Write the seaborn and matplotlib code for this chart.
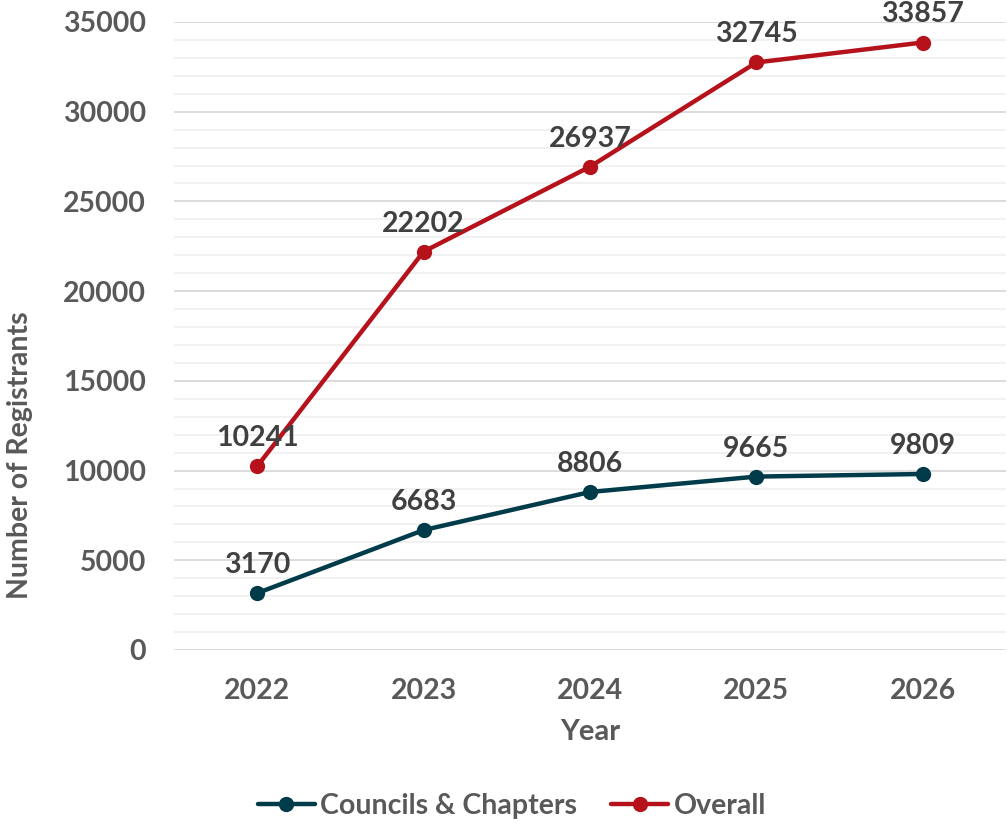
import pandas as pd
import matplotlib.pyplot as plt
from matplotlib.ticker import MultipleLocator
import seaborn as sns

years = ['2022', '2023', '2024', '2025', '2026']
councils = [3170, 6683, 8806, 9665, 9809]
overall = [10241, 22202, 26937, 32745, 33857]

series_names = ['Councils & Chapters', 'Overall']
colors = ['#003B49', '#B5121B']

# long table for seaborn
df = pd.DataFrame({
    'pos': list(range(len(years))) * 2,
    'value': councils + overall,
    'series': [series_names[0]] * len(years) + [series_names[1]] * len(years),
})

sns.set_theme(style='white')
plt.rcParams['font.family'] = ['Lato', 'DejaVu Sans']
plt.rcParams['font.weight'] = 'bold'

fig = plt.figure(figsize=(10.07, 8.26), dpi=100)
ax = fig.add_axes([174 / 1007, 1 - 650 / 826, 832 / 1007, 628 / 826])

sns.lineplot(data=df, x='pos', y='value', hue='series', palette=colors,
             marker='o', markersize=11, markeredgewidth=0, linewidth=3.2,
             ax=ax, legend=False, zorder=3)

# data labels
for vals in [councils, overall]:
    for i, v in enumerate(vals):
        ax.annotate(str(v), (i, v), xytext=(0, 22), textcoords='offset points',
                    ha='center', va='center_baseline', fontsize=20.5,
                    fontweight='bold', color='#404040', zorder=4,
                    annotation_clip=False)

ax.set_xlim(-0.5, len(years) - 0.5)
ax.set_ylim(0, 35000)
ax.set_xticks(range(len(years)))
ax.set_xticklabels(years)
ax.yaxis.set_major_locator(MultipleLocator(5000))
ax.yaxis.set_minor_locator(MultipleLocator(1000))
ax.grid(which='major', axis='y', color='#D9D9D9', linewidth=1.3, zorder=0)
ax.grid(which='minor', axis='y', color='#F0F0F0', linewidth=1.3, zorder=0)
ax.grid(axis='x', visible=False)
for s in ax.spines.values():
    s.set_visible(False)
ax.tick_params(axis='both', which='both', length=0, labelsize=20.5,
               labelcolor='#595959')
ax.tick_params(axis='x', pad=20)
ax.tick_params(axis='y', pad=20)
for lab in ax.get_xticklabels() + ax.get_yticklabels():
    lab.set_fontweight('bold')

ax.set_xlabel('')
ax.set_ylabel('')
fig.text(590 / 1007, 1 - 732 / 826, 'Year', ha='center', va='center',
         fontsize=21, fontweight='bold', color='#595959')
fig.text(20 / 1007, 1 - 455 / 826, 'Number of Registrants', ha='center',
         va='center', rotation=90, fontsize=20.5, fontweight='bold',
         color='#595959')

handles = [plt.Line2D([], [], color=c, linewidth=3.2, marker='o',
                      markersize=11, markeredgewidth=0) for c in colors]
leg = fig.legend(handles, series_names, loc='center', ncol=2, frameon=False,
                 bbox_to_anchor=(512 / 1007, 1 - 806 / 826), fontsize=20.5,
                 handlelength=2.0, handletextpad=0.2, columnspacing=1.2)
for t in leg.get_texts():
    t.set_color('#595959')
    t.set_fontweight('bold')

fig.savefig('out.png', dpi=100)
